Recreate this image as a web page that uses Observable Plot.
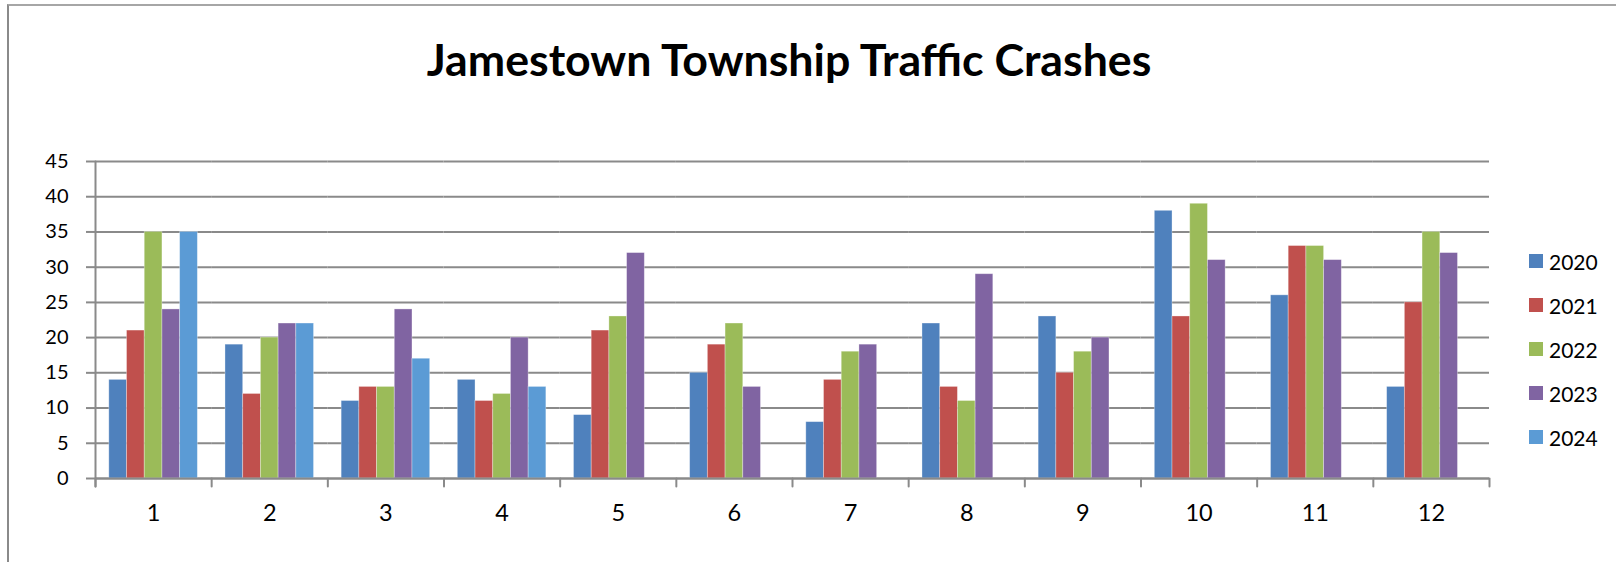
<!DOCTYPE html>
<html>
<head>
<meta charset="utf-8">
<script src="https://cdn.jsdelivr.net/npm/d3@7"></script>
<script src="https://cdn.jsdelivr.net/npm/@observablehq/plot@0.6"></script>
<style>
  html, body { margin: 0; padding: 0; background: #fff; overflow: hidden; }
  #wrap { position: relative; width: 1616px; height: 562px; overflow: hidden; font-family: Lato, "Open Sans", sans-serif; }
  #border { position: absolute; left: 7px; top: 4px; width: 1700px; height: 700px;
            border-left: 2.5px solid #8a8a8a; border-top: 2px solid #a6a6a6; }
  #title { position: absolute; left: 0; top: 37px; width: 1578px; text-align: center;
           font-size: 44.7px; line-height: 44.7px; font-weight: bold; color: #000; white-space: nowrap; }
  #chart { position: absolute; left: 0; top: 0; }
  #legend { position: absolute; left: 1529px; top: 239px; }
  .row { display: flex; align-items: center; height: 44px; font-size: 21px; color: #000; }
  .sw { width: 14px; height: 14px; margin-right: 6px; }
</style>
</head>
<body>
<div id="wrap">
  <div id="border"></div>
  <div id="chart"></div>
  <div id="title"></div>
  <div id="legend"></div>
</div>
<script>
const titleText = "Jamestown Township Traffic Crashes";
const months = [1, 2, 3, 4, 5, 6, 7, 8, 9, 10, 11, 12];
const years = ["2020", "2021", "2022", "2023", "2024"];
const colors = ["#4F81BD", "#C0504D", "#9BBB59", "#8064A2", "#5B9BD5"];
const v2020 = [14, 19, 11, 14, 9, 15, 8, 22, 23, 38, 26, 13];
const v2021 = [21, 12, 13, 11, 21, 19, 14, 13, 15, 23, 33, 25];
const v2022 = [35, 20, 13, 12, 23, 22, 18, 11, 18, 39, 33, 35];
const v2023 = [24, 22, 24, 20, 32, 13, 19, 29, 20, 31, 31, 32];
const v2024 = [35, 22, 17, 13];
const yTicks = [0, 5, 10, 15, 20, 25, 30, 35, 40, 45];

const series = [v2020, v2021, v2022, v2023, v2024];
const rows = [];
series.forEach((vals, i) => vals.forEach((v, j) => rows.push({month: months[j], year: years[i], value: v})));

const W = 1616, H = 562, mTop = 161, mBottom = 84, mLeft = 95, mRight = 127;
const plotH = H - mTop - mBottom;
const gridColor = "#8a8a8a";
const tickShape = {draw(context, l) { context.moveTo(0, 0); context.lineTo(0, -l); }};

const chart = Plot.plot({
  width: W, height: H,
  marginTop: mTop, marginBottom: mBottom, marginLeft: mLeft, marginRight: mRight,
  style: {fontFamily: "Lato, 'Open Sans', sans-serif", fontSize: "20px", color: "#000", background: "transparent"},
  fx: {domain: months, padding: 0, round: false},
  x: {domain: years, paddingInner: 0, paddingOuter: 0.78, round: false, axis: null},
  y: {domain: [0, 45]},
  color: {domain: years, range: colors},
  marks: [
    Plot.gridY({ticks: yTicks, stroke: gridColor, strokeOpacity: 1, strokeWidth: 2}),
    Plot.axisY({ticks: yTicks, tickSize: 9, tickPadding: 18, stroke: gridColor, strokeWidth: 2, fontSize: 20, label: null}),
    Plot.barY(rows, {fx: "month", x: "year", y: "value", fill: "year", stroke: "#fff", strokeWidth: 0.8, strokeOpacity: 0.4}),
    Plot.ruleY([0], {stroke: gridColor, strokeWidth: 2}),
    Plot.vector([months[0]], {fx: d => d, frameAnchor: "top-left", length: plotH + 8, rotate: 180, anchor: "start", shape: tickShape, stroke: gridColor, strokeWidth: 2}),
    Plot.vector(months, {fx: d => d, frameAnchor: "bottom-left", length: 8, rotate: 180, anchor: "start", shape: tickShape, stroke: gridColor, strokeWidth: 2}),
    Plot.vector([months[months.length - 1]], {fx: d => d, frameAnchor: "bottom-right", length: 8, rotate: 180, anchor: "start", shape: tickShape, stroke: gridColor, strokeWidth: 2}),
    Plot.axisFx({anchor: "bottom", tickSize: 0, tickPadding: 26, fontSize: 23.5, label: null})
  ]
});
document.getElementById("chart").appendChild(chart);
document.getElementById("title").textContent = titleText;

const legend = document.getElementById("legend");
years.forEach((y, i) => {
  const row = document.createElement("div");
  row.className = "row";
  const sw = document.createElement("div");
  sw.className = "sw";
  sw.style.background = colors[i];
  const t = document.createElement("span");
  t.textContent = y;
  row.appendChild(sw);
  row.appendChild(t);
  legend.appendChild(row);
});
</script>
</body>
</html>
